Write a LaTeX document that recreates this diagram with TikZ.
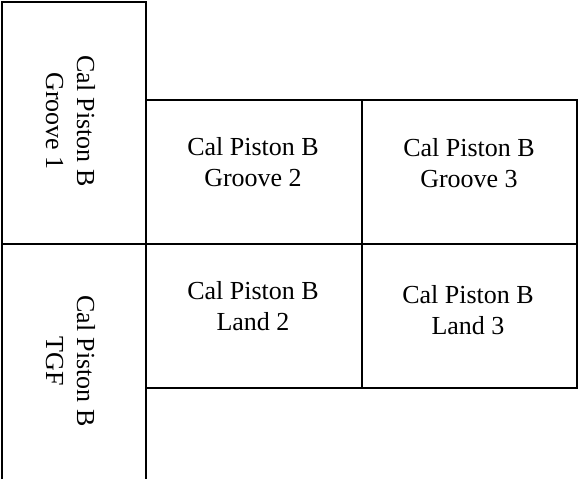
\documentclass[tikz,border=0pt]{standalone}
\usepackage{fontspec}
\setmainfont{Liberation Serif}
\begin{document}
\begin{tikzpicture}[x=1pt,y=-1pt,line width=2pt,
  lbl/.style={align=center,inner sep=0pt,font=\fontsize{26}{31}\selectfont,anchor=base}]
\useasboundingbox (0,0) rectangle (578,479);
\draw (2,479) -- (2,1.5) -- (146,1.5) -- (146,479);
\draw (2,244) -- (577,244);
\draw (146,100) -- (577,100) -- (577,388) -- (146,388);
\draw (362,100) -- (362,388);
\node[lbl,rotate=-90] (g1) at (46,121) {Cal Piston B\\Groove 1};
\node[lbl,rotate=-90] (tgf) at (46,361) {Cal Piston B\\TGF};
\node[lbl] (g2) at (253,186) {Cal Piston B\\Groove 2};
\node[lbl] (g3) at (469,187) {Cal Piston B\\Groove 3};
\node[lbl] (l2) at (253,330) {Cal Piston B\\Land 2};
\node[lbl] (l3) at (468,334) {Cal Piston B\\Land 3};
\end{tikzpicture}
\end{document}
